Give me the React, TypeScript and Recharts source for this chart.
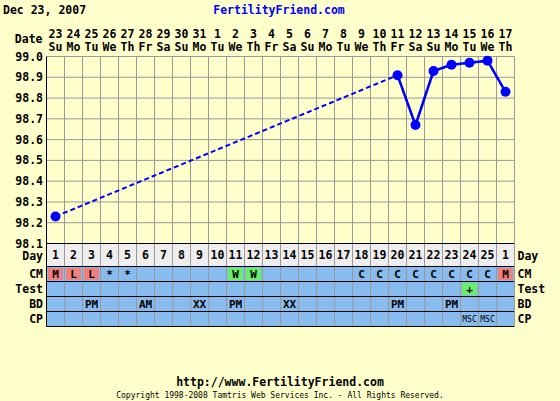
import {
  ComposedChart,
  Line,
  XAxis,
  YAxis,
  ReferenceArea,
  ReferenceLine,
} from "recharts";

// chart values
const dates = ["23", "24", "25", "26", "27", "28", "29", "30", "31", "1", "2", "3", "4", "5", "6", "7", "8", "9", "10", "11", "12", "13", "14", "15", "16", "17"];
const weekdays = ["Su", "Mo", "Tu", "We", "Th", "Fr", "Sa", "Su", "Mo", "Tu", "We", "Th", "Fr", "Sa", "Su", "Mo", "Tu", "We", "Th", "Fr", "Sa", "Su", "Mo", "Tu", "We", "Th"];
const cycleDays = [1, 2, 3, 4, 5, 6, 7, 8, 9, 10, 11, 12, 13, 14, 15, 16, 17, 18, 19, 20, 21, 22, 23, 24, 25, 1];
const temps = [
  98.23, null, null, null, null, null, null, null, null, null, null, null, null,
  null, null, null, null, null, null, 98.91, 98.67, 98.93, 98.96, 98.97, 98.98, 98.83,
];
const tempTicks = [98.1, 98.2, 98.3, 98.4, 98.5, 98.6, 98.7, 98.8, 98.9, 99.0];

const cm = ["M", "L", "L", "*", "*", "", "", "", "", "", "W", "W", "", "", "", "", "", "C", "C", "C", "C", "C", "C", "C", "C", "M"];
const test = ["", "", "", "", "", "", "", "", "", "", "", "", "", "", "", "", "", "", "", "", "", "", "", "+", "", ""];
const bd = ["", "", "PM", "", "", "AM", "", "", "XX", "", "PM", "", "", "XX", "", "", "", "", "", "PM", "", "", "PM", "", "", ""];
const cp = ["", "", "", "", "", "", "", "", "", "", "", "", "", "", "", "", "", "", "", "", "", "", "", "MSC", "MSC", ""];
const rowNames = ["Day", "CM", "Test", "BD", "CP"];
const rowValues = [null, cm, test, bd, cp];

// layout (pixels), table rows sit below the temperature scale
const TEMP_H = 187;
const DAY_H = 23;
const ROW_H = 15;
const PLOT_H = TEMP_H + DAY_H + ROW_H * 4;
const T_TOP = 99.0;
const T_SPAN = 0.9;
const toTemp = (px: number) => T_TOP - (T_SPAN * px) / TEMP_H;
const TEMP_LO = toTemp(PLOT_H);

const BG = "#ffffcc";
const BLUE_CELL = "#88bbee";
const GRID = "#999999";
const LINE = "#0000ff";
const cellColors: Record<string, string> = { M: "#f08080", L: "#f08080", W: "#66ee66", "+": "#66ee66" };
const font = "'DejaVu Sans Mono', monospace";
const txt = { fill: "#000", fontFamily: font, fontWeight: "bold", fontSize: 11.5 };

const data = dates.map((d, i) => ({ idx: i, temp: temps[i] }));

const rowTopPx = (r: number) => (r === 0 ? TEMP_H : TEMP_H + DAY_H + (r - 1) * ROW_H);
const rowHPx = (r: number) => (r === 0 ? DAY_H : ROW_H);
const rowY1 = (r: number) => toTemp(rowTopPx(r));
const rowY2 = (r: number) => toTemp(rowTopPx(r) + rowHPx(r));

function DateTick({ x, y, payload }: any) {
  const i = payload.value;
  return (
    <text textAnchor="middle" {...txt}>
      <tspan x={x} y={y - 19}>{dates[i]}</tspan>
      <tspan x={x} y={y - 5.5}>{weekdays[i]}</tspan>
    </text>
  );
}

const insetShape = (color?: string) => (p: any) =>
  color ? (
    <rect x={p.x + 1.5} y={p.y + 1.5} width={p.width - 3} height={p.height - 3} fill={color} />
  ) : (
    <g />
  );

export default function App() {
  return (
    <div style={{ position: "absolute", left: 0, top: 0, width: 560, height: 401, background: BG }}>
      <ComposedChart
        width={560}
        height={401}
        data={data}
        margin={{ top: 0.5, right: 0, bottom: 74.5, left: 0.5 }}
      >
        <XAxis
          dataKey="idx"
          type="category"
          scale="band"
          orientation="top"
          height={56}
          axisLine={false}
          tickLine={false}
          tickSize={0}
          tickMargin={0}
          interval={0}
          tick={<DateTick />}
        />
        <YAxis
          yAxisId="temp"
          orientation="left"
          width={46}
          type="number"
          domain={[TEMP_LO, T_TOP]}
          ticks={tempTicks}
          interval={0}
          tickFormatter={(v: number) => v.toFixed(1)}
          tick={txt}
          tickLine={false}
          tickSize={0}
          tickMargin={3.5}
          axisLine={{ stroke: "#000" }}
        />
        <YAxis
          yAxisId="tempR"
          orientation="right"
          width={45.5}
          type="number"
          domain={[TEMP_LO, T_TOP]}
          ticks={tempTicks}
          interval={0}
          tickFormatter={(v: number) => v.toFixed(1)}
          tick={txt}
          tickLine={false}
          tickSize={0}
          tickMargin={3}
          axisLine={{ stroke: GRID }}
        />

        {rowNames.map((name, r) => (
          <ReferenceArea
            key={"row" + r}
            yAxisId="temp"
            y1={rowY1(r)}
            y2={rowY2(r)}
            fill={r === 0 ? "#eeeeee" : BLUE_CELL}
            fillOpacity={1}
            stroke="none"
            ifOverflow="visible"
            label={{ value: name, position: "left", offset: 3.5, ...txt, dy: r === 0 ? 1 : 0 }}
          />
        ))}
        {rowNames.map((name, r) => (
          <ReferenceArea
            key={"rowR" + r}
            yAxisId="temp"
            y1={rowY1(r)}
            y2={rowY2(r)}
            fill="none"
            stroke="none"
            ifOverflow="visible"
            label={{ value: name, position: "right", offset: 3, ...txt, dy: r === 0 ? 1 : 0 }}
          />
        ))}

        {cycleDays.map((d, i) => (
          <ReferenceArea
            key={"day" + i}
            yAxisId="temp"
            x1={i}
            x2={i}
            y1={rowY1(0)}
            y2={rowY2(0)}
            fill="none"
            stroke="none"
            ifOverflow="visible"
            label={{ value: String(d), position: "center", ...txt }}
          />
        ))}

        {rowValues.map((vals, r) =>
          vals
            ? vals.map((v, i) =>
                v ? (
                  <ReferenceArea
                    key={"c" + r + "_" + i}
                    yAxisId="temp"
                    x1={i}
                    x2={i}
                    y1={rowY1(r)}
                    y2={rowY2(r)}
                    ifOverflow="visible"
                    shape={insetShape(cellColors[v])}
                    label={{
                      value: v,
                      position: "center",
                      ...txt,
                      fontSize: v === "MSC" ? 8 : 11,
                      fontWeight: v === "MSC" ? "normal" : "bold",
                    }}
                  />
                ) : null
              )
            : null
        )}

        {tempTicks.map((t) => (
          <ReferenceLine key={"g" + t} yAxisId="temp" y={t} stroke={GRID} ifOverflow="visible" />
        ))}
        {dates.slice(1).map((d, i) => (
          <ReferenceLine
            key={"v" + i}
            yAxisId="temp"
            x={i + 1}
            position="start"
            stroke={GRID}
            ifOverflow="visible"
          />
        ))}
        {rowNames.map((name, r) => (
          <ReferenceLine key={"h" + r} yAxisId="temp" y={rowY1(r)} stroke="#000" ifOverflow="visible" />
        ))}
        <ReferenceLine yAxisId="temp" y={TEMP_LO} stroke="#000" ifOverflow="visible" />

        <Line
          yAxisId="temp"
          dataKey="temp"
          type="linear"
          connectNulls
          stroke={LINE}
          strokeWidth={2}
          strokeDasharray="5 3"
          dot={false}
          activeDot={false}
          isAnimationActive={false}
        />
        <Line
          yAxisId="temp"
          dataKey="temp"
          type="linear"
          stroke={LINE}
          strokeWidth={2.5}
          dot={{ r: 5, fill: LINE, stroke: LINE, strokeWidth: 0 }}
          activeDot={false}
          isAnimationActive={false}
        />
      </ComposedChart>
      <svg
        width={560}
        height={401}
        style={{ position: "absolute", left: 0, top: 0, pointerEvents: "none" }}
      >
        <text x={3} y={14} {...txt}>Dec 23, 2007</text>
        <text x={279} y={14} textAnchor="middle" {...txt} fill="#0000ff">FertilityFriend.com</text>
        <text x={42.5} y={43} textAnchor="end" {...txt}>Date</text>
        <text x={280} y={386} textAnchor="middle" {...txt}>http://www.FertilityFriend.com</text>
        <text x={280} y={398} textAnchor="middle" fontFamily={font} fontSize={8} fill="#000">
          Copyright 1998-2008 Tamtris Web Services Inc. - All Rights Reserved.
        </text>
      </svg>
    </div>
  );
}
